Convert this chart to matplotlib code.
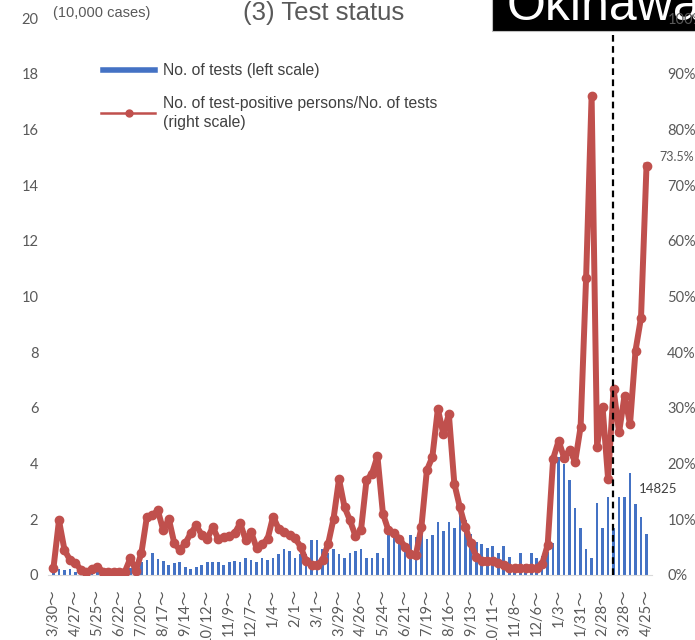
import numpy as np
import matplotlib.pyplot as plt
from matplotlib.lines import Line2D
from matplotlib.patches import Rectangle

# tick labels every 4 weeks (weekly data, 3/30/2020 - 4/25/2022)
tick_dates = ["3/30", "4/27", "5/25", "6/22", "7/20", "8/17", "9/14", "10/12",
              "11/9", "12/7", "1/4", "2/1", "3/1", "3/29", "4/26", "5/24",
              "6/21", "7/19", "8/16", "9/13", "10/11", "11/8", "12/6", "1/3",
              "1/31", "2/28", "3/28", "4/25"]

# No. of tests per week (10,000 cases)
tests = [0.15, 0.2, 0.18, 0.2, 0.1, 0.1, 0.1, 0.1, 0.1, 0.1,
         0.12, 0.12, 0.15, 0.2, 0.25, 0.36, 0.48, 0.54, 0.78, 0.56,
         0.5, 0.36, 0.42, 0.45, 0.3, 0.2, 0.3, 0.36, 0.45, 0.45,
         0.45, 0.35, 0.45, 0.5, 0.45, 0.6, 0.54, 0.45, 0.6, 0.54,
         0.6, 0.75, 0.92, 0.86, 0.6, 0.75, 0.75, 1.25, 1.25, 0.92,
         0.8, 0.92, 0.75, 0.6, 0.78, 0.86, 0.94, 0.6, 0.6, 0.78,
         0.6, 1.63, 1.49, 1.45, 1.07, 1.43, 1.37, 1.49, 1.3, 1.43,
         1.91, 1.57, 1.91, 1.67, 2.15, 1.97, 1.49, 1.2, 1.13, 0.98,
         1.04, 0.8, 1.05, 0.63, 0.3, 0.8, 0.4, 0.78, 0.6, 0.7,
         0.83, 1.15, 4.25, 4.0, 3.4, 2.4, 1.67, 0.93, 0.6, 2.6,
         1.67, 2.8, 1.67, 2.8, 2.8, 3.65, 2.55, 2.1, 1.48]

# test-positive persons / tests (%)
positivity = [1.3, 9.8, 4.5, 2.7, 2.2, 0.9, 0.6, 1.0, 1.5, 0.6,
              0.6, 0.6, 0.6, 0.6, 3.0, 0.8, 3.9, 10.4, 10.7, 11.6,
              8.0, 10.1, 5.7, 4.5, 5.7, 7.5, 8.9, 7.2, 6.5, 8.6,
              6.5, 6.9, 7.0, 7.5, 9.3, 6.3, 7.7, 4.8, 5.5, 6.5,
              10.5, 8.3, 7.7, 7.2, 6.6, 5.1, 2.5, 1.8, 1.8, 2.7,
              5.5, 10.1, 17.2, 12.2, 9.8, 7.0, 8.0, 17.0, 18.2, 21.3,
              11.0, 8.0, 7.5, 6.5, 5.1, 3.8, 3.6, 8.6, 18.8, 21.2,
              29.8, 25.3, 28.9, 16.4, 12.2, 8.6, 5.7, 3.3, 2.6, 2.6,
              2.6, 2.2, 1.8, 1.2, 1.2, 1.2, 1.2, 1.2, 1.2, 2.0,
              5.4, 20.9, 24.1, 21.0, 22.5, 20.3, 26.6, 53.4, 86.0, 23.0,
              30.1, 17.3, 33.4, 25.6, 32.2, 27.1, 40.3, 46.2, 73.5]

marker_week = 101.9  # dashed reference line

W, H = 695, 640
gray = "#595959"
tick_font = ["Lato", "Noto Sans CJK JP", "DejaVu Sans"]

fig = plt.figure(figsize=(W / 100, H / 100), dpi=100)
ax = fig.add_axes([48 / W, 65 / H, 604 / W, 557 / H])
ax.patch.set_visible(False)

x = np.arange(len(tests))
ax.bar(x, tests, width=0.48, color="#4472C4", zorder=2)
ax.set_xlim(-1, len(tests))
ax.set_ylim(0, 20)
ax.set_yticks(range(0, 21, 2))
ax.set_yticklabels([str(v) for v in range(0, 21, 2)], family=tick_font,
                   fontsize=10.5, color=gray)
ax.set_xticks(x[::4])
ax.set_xticklabels([d + "～" for d in tick_dates], rotation=90, family=tick_font,
                   fontsize=10.5, color=gray, va="top", ha="center")
ax.tick_params(axis="x", length=0, pad=10)
ax.tick_params(axis="y", length=0, pad=7)
for s in ["top", "left", "right"]:
    ax.spines[s].set_visible(False)
ax.spines["bottom"].set_color("#D9D9D9")

ax2 = ax.twinx()
ax2.patch.set_visible(False)
ax2.plot(x, positivity, color="#C0504D", lw=4.3, marker="o", ms=6,
         solid_joinstyle="round", zorder=3)
ax2.set_ylim(0, 100)
ax2.set_yticks(range(0, 101, 10))
ax2.set_yticklabels([f"{v}%" for v in range(0, 101, 10)], family=tick_font,
                    fontsize=10.5, color=gray)
ax2.tick_params(axis="y", length=0, pad=11)
for s in ax2.spines.values():
    s.set_visible(False)
ax2.vlines(marker_week, 0, 97.6, colors="black", linestyles=(0, (3, 2)), lw=1.6, zorder=4)

ax2.annotate("73.5%", xy=(x[-1], positivity[-1]), xytext=(9, 6),
             textcoords="offset points", fontsize=9, color=gray,
             family=tick_font, va="center", ha="left", annotation_clip=False)
ax.annotate("14825", xy=(x[-1], tests[-1]), xytext=(8, 32),
            textcoords="offset points", fontsize=9.5, color="#404040",
            family=tick_font, va="center", ha="center", annotation_clip=False)

# header
fig.add_artist(Rectangle((492 / W, 1 - 31 / H), 220 / W, 40 / H,
                         transform=fig.transFigure, facecolor="black",
                         edgecolor="#BFBFBF", lw=0.8, zorder=-1))
fig.text(507 / W, 1 - 20 / H, "Okinawa", color="white", fontsize=36,
         family="Liberation Sans", va="baseline", ha="left", zorder=-1)
fig.text(324 / W, 1 - 13 / H, "(3) Test status", color=gray, fontsize=18.5,
         family="Liberation Sans", va="center", ha="center")
fig.text(53 / W, 1 - 13 / H, "(10,000 cases)", color=gray, fontsize=10.5,
         family="Liberation Sans", va="center", ha="left")

# legend
fig.add_artist(Line2D([103 / W, 155 / W], [1 - 70 / H, 1 - 70 / H],
                      transform=fig.transFigure, color="#4472C4", lw=4))
fig.add_artist(Line2D([101 / W, 155 / W], [1 - 113 / H, 1 - 113 / H],
                      transform=fig.transFigure, color="#C0504D", lw=1.8))
fig.add_artist(Line2D([129 / W], [1 - 113 / H], transform=fig.transFigure,
                      color="#C0504D", marker="o", ms=5))
fig.text(163 / W, 1 - 70 / H, "No. of tests (left scale)", color="#404040",
         fontsize=11.3, family="Liberation Sans", va="center", ha="left")
fig.text(163 / W, 1 - 113 / H,
         "No. of test-positive persons/No. of tests\n(right scale)",
         color="#404040", fontsize=11.3, family="Liberation Sans",
         va="center", ha="left", linespacing=1.4)

fig.savefig("out.png", dpi=100)
